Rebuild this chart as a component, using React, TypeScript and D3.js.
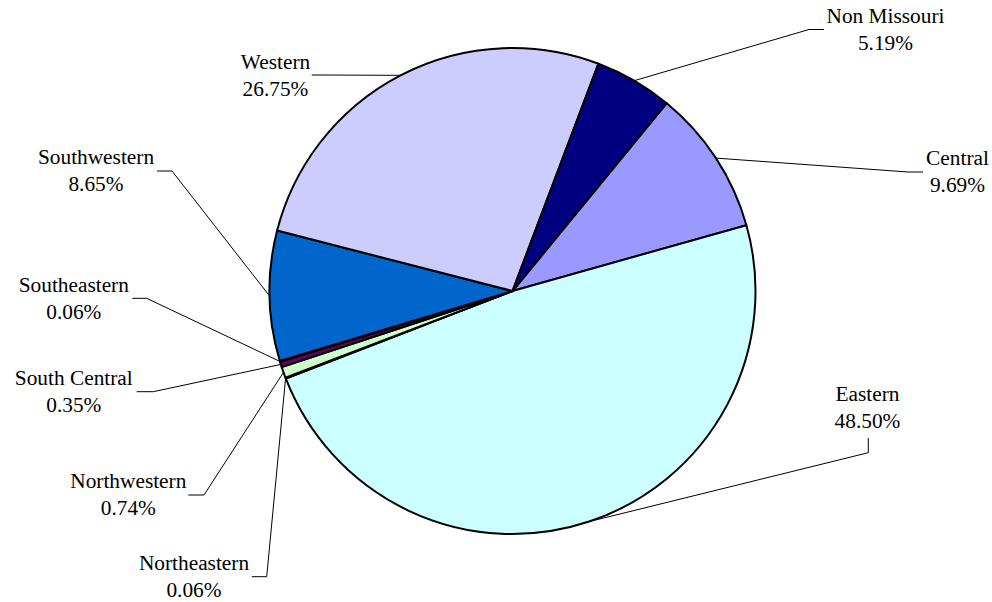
import React from "react";
import * as d3 from "d3";

// Data
const categories = [
  "Central",
  "Eastern",
  "Northeastern",
  "Northwestern",
  "South Central",
  "Southeastern",
  "Southwestern",
  "Western",
  "Non Missouri",
];
const shares = [9.69, 48.5, 0.06, 0.74, 0.35, 0.06, 8.65, 26.75, 5.19];
const sliceColors = [
  "#9999FF",
  "#CCFFFF",
  "#FFFFCC",
  "#CCFFCC",
  "#660066",
  "#FF8080",
  "#0066CC",
  "#CCCCFF",
  "#000080",
];

// Label layout: text center x, first baseline y, leader end (near text), leader elbow
const labelLayout: Record<string, { cx: number; by: number; end: [number, number]; elbow: [number, number] }> = {
  "Non Missouri": { cx: 885.5, by: 23, end: [824, 29.5], elbow: [809, 29.5] },
  Central: { cx: 957.5, by: 165, end: [923, 172], elbow: [908, 172] },
  Eastern: { cx: 867.5, by: 401, end: [868.3, 438], elbow: [868.3, 452.7] },
  Western: { cx: 275.5, by: 69, end: [311.7, 75], elbow: [326, 75] },
  Southwestern: { cx: 96, by: 164, end: [157, 171], elbow: [172, 171] },
  Southeastern: { cx: 73.8, by: 291.5, end: [132.3, 298.3], elbow: [146.7, 298.3] },
  "South Central": { cx: 73.8, by: 385, end: [136.7, 391.7], elbow: [153.3, 391.7] },
  Northwestern: { cx: 128.3, by: 488.3, end: [188.3, 495], elbow: [204, 495] },
  Northeastern: { cx: 194, by: 570, end: [251.7, 576.7], elbow: [266.7, 576.7] },
};

const W = 992;
const H = 602;
const CX = 512.5;
const CY = 291;
const R = 243;
const START = (39.4 * Math.PI) / 180;
const LINE_GAP = 27;
const FONT = '"Liberation Serif", "Times New Roman", "DejaVu Serif", serif';

export default function App() {
  const pie = d3
    .pie<number>()
    .sort(null)
    .value((d) => d)
    .startAngle(START)
    .endAngle(START + 2 * Math.PI);
  const arcs = pie(shares);
  const arcGen = d3.arc<d3.PieArcDatum<number>>().innerRadius(0).outerRadius(R);

  const textStyle: React.CSSProperties = { fontFamily: FONT, fontSize: "21.33px" };

  return (
    <svg
      width={W}
      height={H}
      style={{ position: "absolute", left: 0, top: 0, background: "#fff" }}
    >
      <g transform={`translate(${CX},${CY})`}>
        {arcs.map((a, i) => (
          <path
            key={categories[i]}
            d={arcGen(a) || ""}
            fill={sliceColors[i]}
            stroke="#000"
            strokeWidth={2}
            strokeLinejoin="round"
          />
        ))}
      </g>
      {arcs.map((a, i) => {
        const name = categories[i];
        const lay = labelLayout[name];
        const mid = (a.startAngle + a.endAngle) / 2;
        const px = CX + R * Math.sin(mid);
        const py = CY - R * Math.cos(mid);
        const pts = [[px, py], lay.elbow, lay.end] as [number, number][];
        const line = d3.line()(pts) || "";
        return (
          <g key={"lab" + name}>
            <path d={line} fill="none" stroke="#000" strokeWidth={1} />
            <text x={lay.cx} y={lay.by} textAnchor="middle" fill="#000" style={textStyle}>
              {name}
            </text>
            <text x={lay.cx} y={lay.by + LINE_GAP} textAnchor="middle" fill="#000" style={textStyle}>
              {shares[i].toFixed(2)}%
            </text>
          </g>
        );
      })}
    </svg>
  );
}
